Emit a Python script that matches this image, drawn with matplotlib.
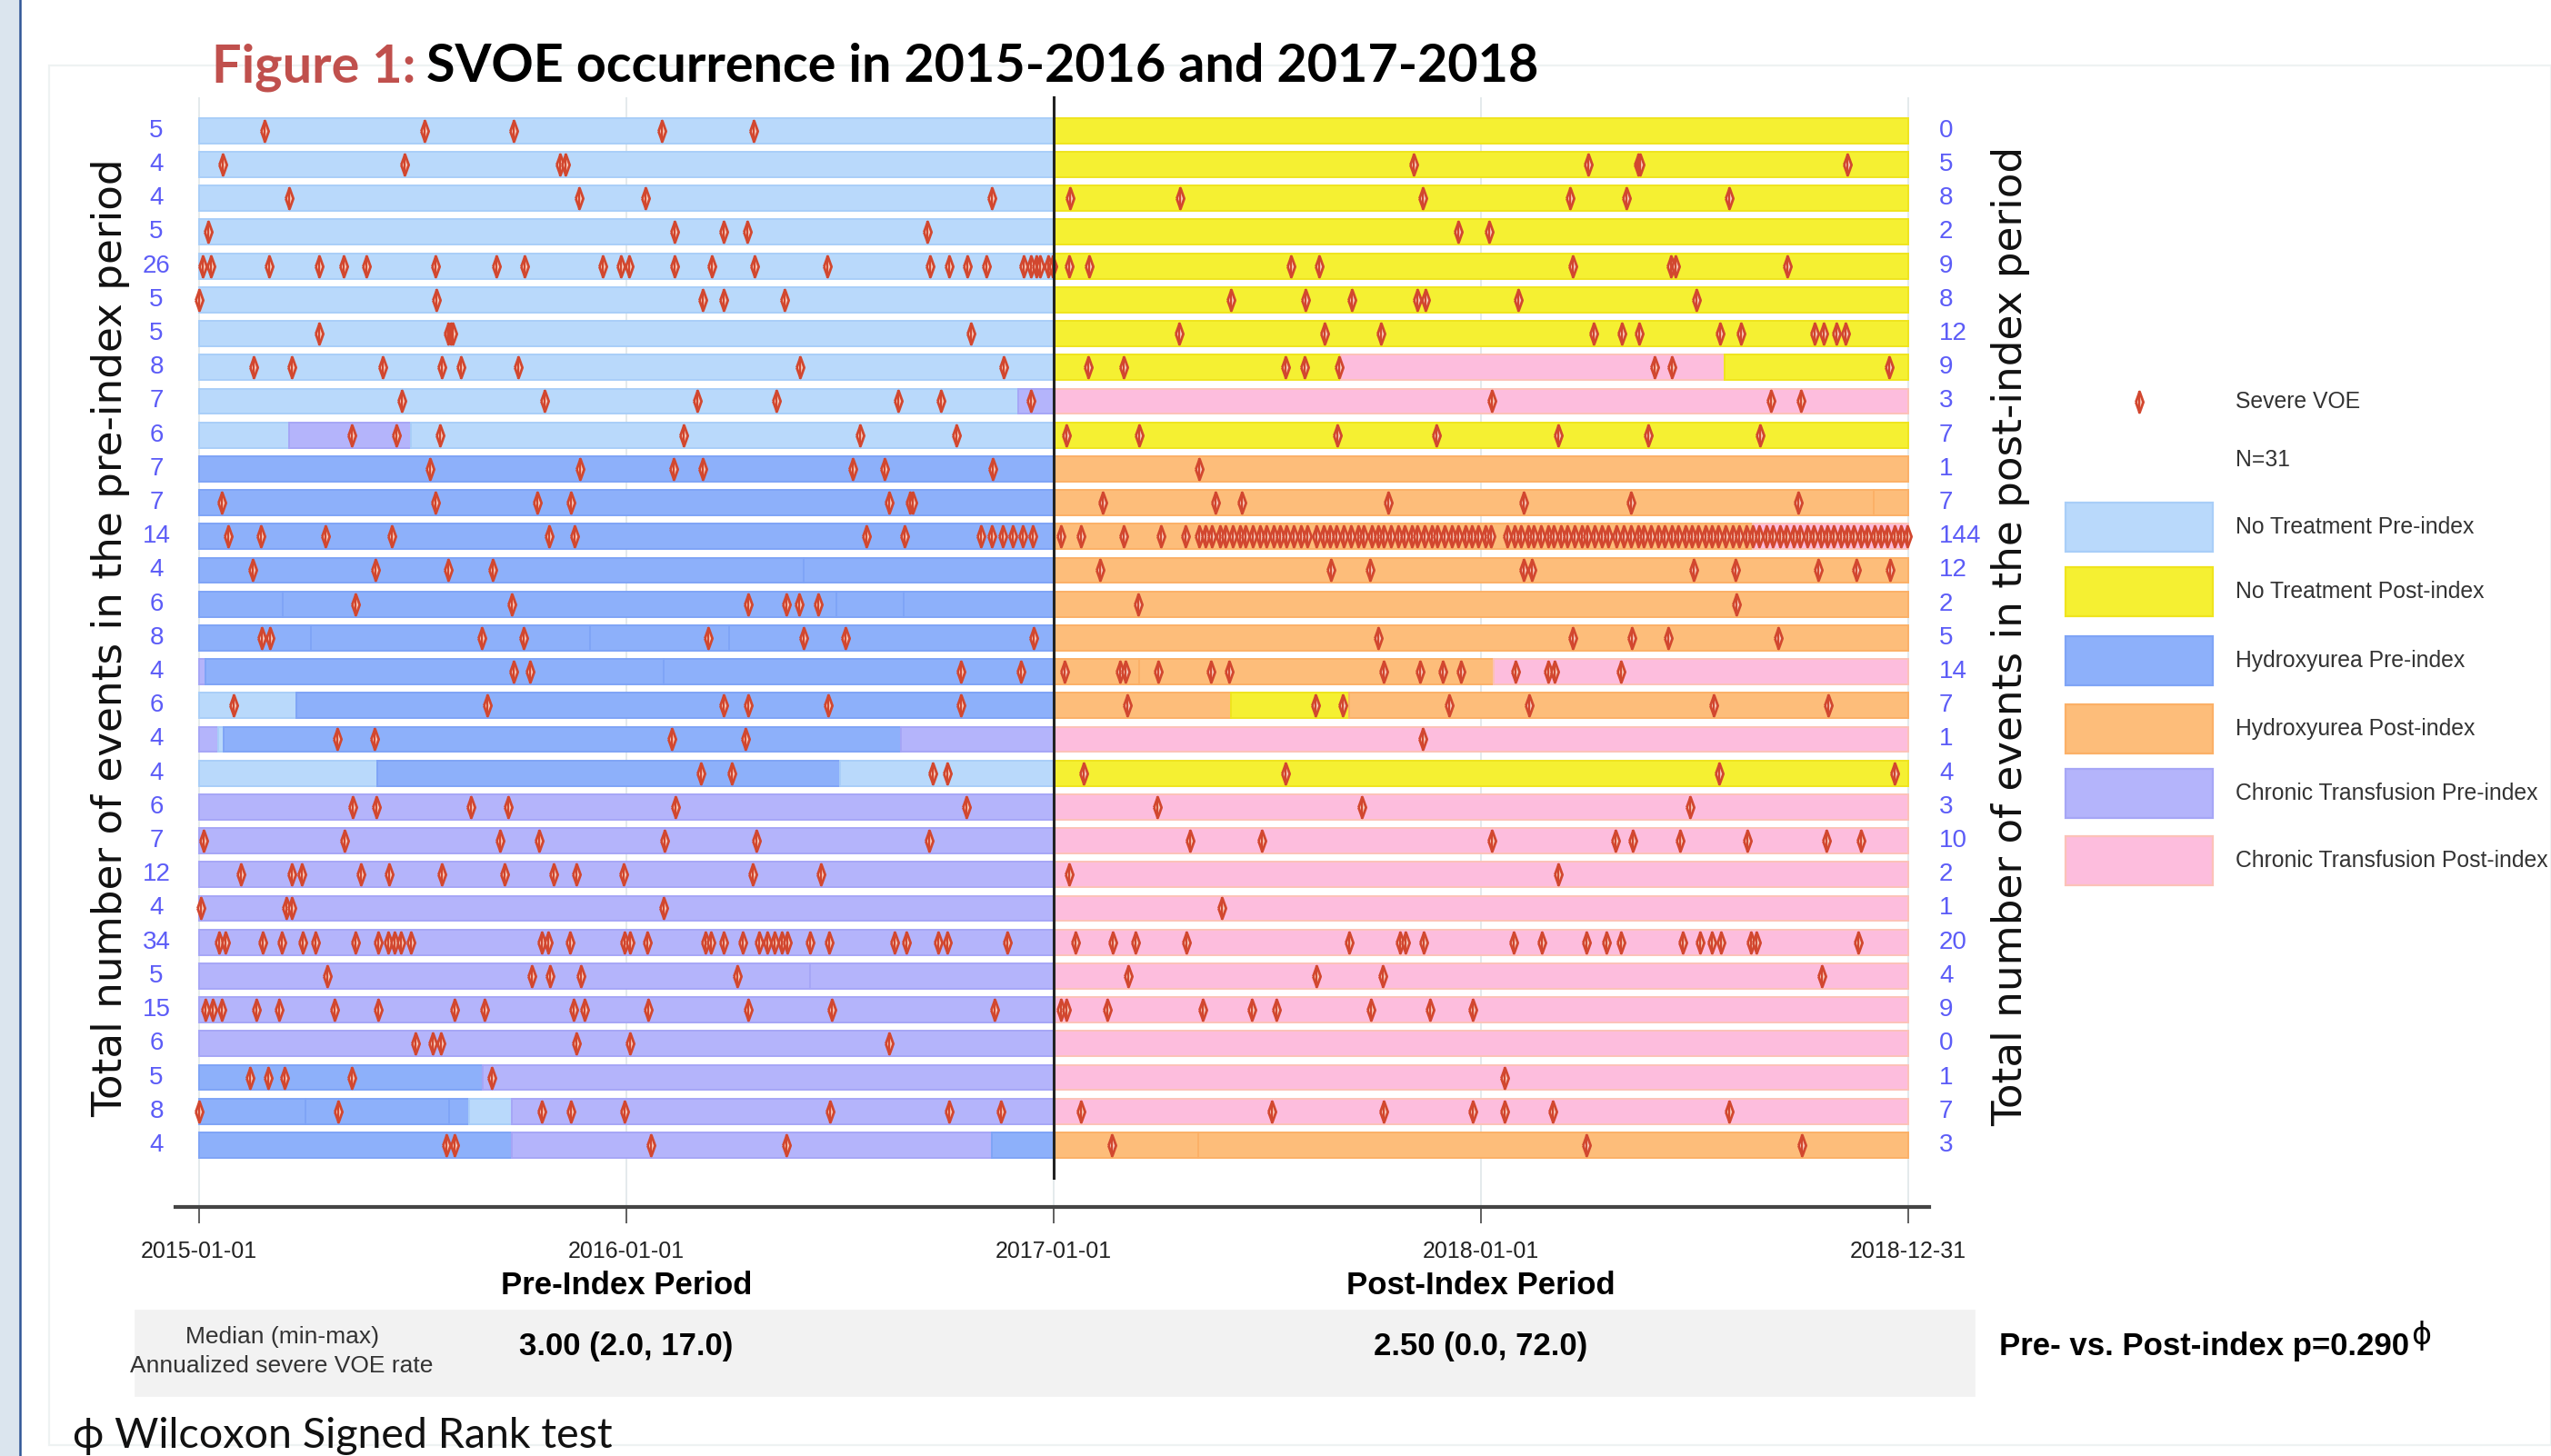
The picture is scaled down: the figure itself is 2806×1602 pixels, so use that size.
import numpy as np
import matplotlib
matplotlib.use('Agg')
from matplotlib import pyplot as plt
from matplotlib import transforms
from matplotlib.patches import Rectangle
from matplotlib.lines import Line2D
from matplotlib import font_manager as fm

W, H, DPI = 2806, 1602, 200
names = {f.name for f in fm.fontManager.ttflist}
NARROW = 'Liberation Sans Narrow' if 'Liberation Sans Narrow' in names else 'Liberation Sans'
CAL = 'Lato' if 'Lato' in names else 'DejaVu Sans'

#---------------------------------------------------------------- data
pre_counts = [5, 4, 4, 5, 26, 5, 5, 8, 7, 6, 7, 7, 14, 4, 6, 8, 4, 6, 4, 4, 6, 7, 12, 4, 34, 5, 15, 6, 5, 8, 4]
post_counts = [0, 5, 8, 2, 9, 8, 12, 9, 3, 7, 1, 7, 144, 12, 2, 5, 14, 7, 1, 4, 3, 10, 2, 1, 20, 4, 9, 0, 1, 7, 3]

# treatment segments per patient: (start, end, code); dates as decimal years
segments = [
    [(2015, 2017, 'NT0'), (2017, 2019, 'NT1')],
    [(2015, 2017, 'NT0'), (2017, 2019, 'NT1')],
    [(2015, 2017, 'NT0'), (2017, 2019, 'NT1')],
    [(2015, 2017, 'NT0'), (2017, 2019, 'NT1')],
    [(2015, 2017, 'NT0'), (2017, 2019, 'NT1')],
    [(2015, 2017, 'NT0'), (2017, 2019, 'NT1')],
    [(2015, 2017, 'NT0'), (2017, 2019, 'NT1')],
    [(2015, 2017, 'NT0'), (2017, 2017.672, 'NT1'), (2017.672, 2018.571, 'CT1'), (2018.571, 2019, 'NT1')],
    [(2015, 2016.918, 'NT0'), (2016.918, 2017, 'CT0'), (2017, 2019, 'CT1')],
    [(2015, 2015.212, 'NT0'), (2015.212, 2015.495, 'CT0'), (2015.495, 2017, 'NT0'), (2017, 2019, 'NT1')],
    [(2015, 2017, 'HU0'), (2017, 2019, 'HU1')],
    [(2015, 2017, 'HU0'), (2017, 2018.92, 'HU1'), (2018.92, 2019, 'HU1')],
    [(2015, 2017, 'HU0'), (2017, 2018.637, 'HU1'), (2018.637, 2019, 'CT1')],
    [(2015, 2016.415, 'HU0'), (2016.415, 2017, 'HU0'), (2017, 2019, 'HU1')],
    [(2015, 2015.196, 'HU0'), (2015.196, 2016.491, 'HU0'), (2016.491, 2016.649, 'HU0'), (2016.649, 2017, 'HU0'), (2017, 2019, 'HU1')],
    [(2015, 2015.262, 'HU0'), (2015.262, 2015.915, 'HU0'), (2015.915, 2016.240, 'HU0'), (2016.240, 2017, 'HU0'), (2017, 2019, 'HU1')],
    [(2015, 2015.015, 'CT0'), (2015.015, 2016.088, 'HU0'), (2016.088, 2017, 'HU0'), (2017, 2017.2, 'HU1'), (2017.2, 2018.029, 'HU1'), (2018.029, 2019, 'CT1')],
    [(2015, 2015.229, 'NT0'), (2015.229, 2017, 'HU0'), (2017, 2017.414, 'HU1'), (2017.414, 2017.691, 'NT1'), (2017.691, 2019, 'HU1')],
    [(2015, 2015.044, 'CT0'), (2015.044, 2015.057, 'NT0'), (2015.057, 2016.643, 'HU0'), (2016.643, 2017, 'CT0'), (2017, 2019, 'CT1')],
    [(2015, 2015.417, 'NT0'), (2015.417, 2016.5, 'HU0'), (2016.5, 2017, 'NT0'), (2017, 2019, 'NT1')],
    [(2015, 2017, 'CT0'), (2017, 2019, 'CT1')],
    [(2015, 2017, 'CT0'), (2017, 2019, 'CT1')],
    [(2015, 2017, 'CT0'), (2017, 2019, 'CT1')],
    [(2015, 2017, 'CT0'), (2017, 2019, 'CT1')],
    [(2015, 2017, 'CT0'), (2017, 2019, 'CT1')],
    [(2015, 2016.43, 'CT0'), (2016.43, 2017, 'CT0'), (2017, 2019, 'CT1')],
    [(2015, 2017, 'CT0'), (2017, 2019, 'CT1')],
    [(2015, 2017, 'CT0'), (2017, 2019, 'CT1')],
    [(2015, 2015.665, 'HU0'), (2015.665, 2017, 'CT0'), (2017, 2019, 'CT1')],
    [(2015, 2015.249, 'HU0'), (2015.249, 2015.585, 'HU0'), (2015.585, 2015.632, 'HU0'), (2015.632, 2015.733, 'NT0'), (2015.733, 2017, 'CT0'), (2017, 2019, 'CT1')],
    [(2015, 2015.733, 'HU0'), (2015.733, 2016.856, 'CT0'), (2016.856, 2017, 'HU0'), (2017, 2017.338, 'HU1'), (2017.338, 2019, 'HU1')],
]

pre_events = [
    [2015.153, 2015.527, 2015.736, 2016.084, 2016.299],
    [2015.055, 2015.481, 2015.846, 2015.858],
    [2015.211, 2015.889, 2016.044, 2016.856],
    [2015.021, 2016.113, 2016.227, 2016.284, 2016.704],
    [2015.009, 2015.028, 2015.165, 2015.281, 2015.338, 2015.391, 2015.554, 2015.695, 2015.761, 2015.945,
     2015.987, 2016.006, 2016.113, 2016.200, 2016.301, 2016.470, 2016.711, 2016.755, 2016.798, 2016.842,
     2016.930, 2016.947, 2016.960, 2016.969, 2016.988, 2016.998],
    [2015.000, 2015.556, 2016.179, 2016.227, 2016.371],
    [2015.281, 2015.584, 2015.590, 2015.594, 2016.806],
    [2015.129, 2015.218, 2015.431, 2015.569, 2015.613, 2015.748, 2016.406, 2016.883],
    [2015.474, 2015.809, 2016.166, 2016.352, 2016.637, 2016.736, 2016.947],
    [2015.357, 2015.463, 2015.564, 2016.134, 2016.546, 2016.772],
    [2015.541, 2015.892, 2016.111, 2016.179, 2016.531, 2016.605, 2016.858],
    [2015.053, 2015.554, 2015.792, 2015.870, 2016.616, 2016.665, 2016.670],
    [2015.068, 2015.144, 2015.296, 2015.451, 2015.820, 2015.879, 2016.561, 2016.652, 2016.829, 2016.856,
     2016.880, 2016.905, 2016.928, 2016.951],
    [2015.125, 2015.412, 2015.583, 2015.688],
    [2015.366, 2015.733, 2016.286, 2016.375, 2016.405, 2016.449],
    [2015.148, 2015.167, 2015.663, 2015.759, 2016.192, 2016.415, 2016.513, 2016.954],
    [2015.737, 2015.774, 2016.783, 2016.924],
    [2015.082, 2015.674, 2016.227, 2016.286, 2016.472, 2016.783],
    [2015.324, 2015.410, 2016.107, 2016.278],
    [2016.175, 2016.246, 2016.718, 2016.751],
    [2015.360, 2015.416, 2015.636, 2015.723, 2016.115, 2016.795],
    [2015.011, 2015.340, 2015.705, 2015.797, 2016.090, 2016.305, 2016.709],
    [2015.098, 2015.218, 2015.241, 2015.380, 2015.444, 2015.569, 2015.716, 2015.830, 2015.883, 2015.993,
     2016.297, 2016.455],
    [2015.005, 2015.205, 2015.218, 2016.088],
    [2015.047, 2015.062, 2015.150, 2015.193, 2015.243, 2015.273, 2015.366, 2015.419, 2015.442, 2015.457,
     2015.473, 2015.495, 2015.803, 2015.818, 2015.868, 2015.997, 2016.008, 2016.050, 2016.185, 2016.198,
     2016.227, 2016.272, 2016.310, 2016.329, 2016.348, 2016.363, 2016.377, 2016.430, 2016.475, 2016.627,
     2016.656, 2016.730, 2016.751, 2016.891],
    [2015.300, 2015.778, 2015.822, 2015.894, 2016.259],
    [2015.015, 2015.032, 2015.053, 2015.134, 2015.187, 2015.317, 2015.419, 2015.598, 2015.668, 2015.877,
     2015.902, 2016.052, 2016.285, 2016.481, 2016.861],
    [2015.507, 2015.547, 2015.566, 2015.883, 2016.008, 2016.616],
    [2015.119, 2015.163, 2015.201, 2015.357, 2015.686],
    [2015.000, 2015.325, 2015.803, 2015.871, 2015.995, 2016.476, 2016.755, 2016.877],
    [2015.579, 2015.598, 2016.058, 2016.375],
]

post_events = [
    [],
    [2017.843, 2018.252, 2018.368, 2018.373, 2018.858],
    [2017.038, 2017.296, 2017.864, 2018.208, 2018.341, 2018.582],
    [2017.948, 2018.020],
    [2017.036, 2017.083, 2017.555, 2017.621, 2018.216, 2018.444, 2018.455, 2018.717],
    [2017.414, 2017.589, 2017.697, 2017.851, 2017.870, 2018.088, 2018.504],
    [2017.294, 2017.634, 2017.767, 2018.265, 2018.330, 2018.371, 2018.559, 2018.609, 2018.780, 2018.803,
     2018.831, 2018.854],
    [2017.080, 2017.163, 2017.543, 2017.587, 2017.669, 2018.406, 2018.447, 2018.955],
    [2018.026, 2018.679, 2018.748],
    [2017.030, 2017.201, 2017.665, 2017.895, 2018.181, 2018.392, 2018.653],
    [2017.340],
    [2017.116, 2017.378, 2017.441, 2017.784, 2018.100, 2018.352, 2018.742],
    [2017.017, 2017.064, 2017.165, 2017.252, 2017.308,
     2017.340, 2017.356, 2017.371, 2017.389, 2017.402, 2017.420, 2017.436, 2017.449, 2017.466, 2017.483,
     2017.498, 2017.514, 2017.531, 2017.545, 2017.561, 2017.578, 2017.594,
     2017.615, 2017.632, 2017.648, 2017.661, 2017.679, 2017.695, 2017.712, 2017.726, 2017.744, 2017.759,
     2017.773, 2017.790, 2017.806, 2017.821, 2017.838, 2017.852, 2017.869, 2017.885, 2017.899, 2017.916,
     2017.932, 2017.947, 2017.963, 2017.979, 2017.994, 2018.010, 2018.024,
     2018.062, 2018.078, 2018.093, 2018.110, 2018.124, 2018.141, 2018.157, 2018.171, 2018.188, 2018.203,
     2018.219, 2018.236, 2018.250, 2018.266, 2018.283, 2018.299, 2018.318,
     2018.335, 2018.351, 2018.368, 2018.382, 2018.399, 2018.414, 2018.430, 2018.447, 2018.461, 2018.478,
     2018.494, 2018.509, 2018.525, 2018.541, 2018.556, 2018.573, 2018.589, 2018.604, 2018.621, 2018.637,
     2018.652, 2018.668, 2018.684, 2018.700, 2018.716, 2018.731, 2018.747, 2018.763, 2018.778, 2018.795,
     2018.811, 2018.826, 2018.842, 2018.858, 2018.873, 2018.890, 2018.905, 2018.921, 2018.937, 2018.952,
     2018.968, 2018.984, 2018.998],
    [2017.108, 2017.650, 2017.741, 2018.100, 2018.119, 2018.499, 2018.596, 2018.789, 2018.879, 2018.958],
    [2017.197, 2018.598],
    [2017.760, 2018.214, 2018.353, 2018.438, 2018.695],
    [2017.026, 2017.156, 2017.169, 2017.245, 2017.368, 2017.410, 2017.773, 2017.858, 2017.910, 2017.953,
     2018.081, 2018.157, 2018.172, 2018.328],
    [2017.173, 2017.612, 2017.676, 2017.925, 2018.113, 2018.544, 2018.812],
    [2017.864],
    [2017.070, 2017.543, 2018.558, 2018.968],
    [2017.243, 2017.722, 2018.489],
    [2017.319, 2017.488, 2018.026, 2018.314, 2018.356, 2018.465, 2018.624, 2018.808, 2018.890],
    [2017.036, 2018.181],
    [2017.393],
    [2017.051, 2017.138, 2017.192, 2017.311, 2017.691, 2017.811, 2017.824, 2017.866, 2018.077, 2018.143,
     2018.246, 2018.294, 2018.328, 2018.472, 2018.512, 2018.541, 2018.561, 2018.632, 2018.645, 2018.882],
    [2017.175, 2017.615, 2017.771, 2018.799],
    [2017.017, 2017.030, 2017.125, 2017.349, 2017.465, 2017.522, 2017.743, 2017.880, 2017.980],
    [],
    [2018.056],
    [2017.064, 2017.511, 2017.773, 2017.981, 2018.055, 2018.168, 2018.581],
    [2017.136, 2018.247, 2018.751],
]

tick_years = [2015, 2016, 2017, 2018, 2019]
tick_labels = ['2015-01-01', '2016-01-01', '2017-01-01', '2018-01-01', '2018-12-31']
legend_codes = ['NT0', 'NT1', 'HU0', 'HU1', 'CT0', 'CT1']
legend_labels = ['No Treatment Pre-index', 'No Treatment Post-index', 'Hydroxyurea Pre-index',
                 'Hydroxyurea Post-index', 'Chronic Transfusion Pre-index', 'Chronic Transfusion Post-index']

#---------------------------------------------------------------- styles
face = {'NT0': '#b9d9fb', 'NT1': '#f5f032', 'HU0': '#8db0fa', 'HU1': '#fdbd7a', 'CT0': '#b4b4fb', 'CT1': '#fdbddd'}
edge = {'NT0': '#a9cef8', 'NT1': '#efe41e', 'HU0': '#7fa4f6', 'HU1': '#fbb067', 'CT0': '#a6a6f6', 'CT1': '#fcc2b8'}
RED = '#d2472f'
diamond = [(-0.36, 0), (0, 1), (0.36, 0), (0, -1), (-0.36, 0)]
cnt_col = '#5c5cf7'

def fx(px):
    return px / W

def fy(py):
    return 1 - py / H

fig = plt.figure(figsize=(W / DPI, H / DPI), dpi=DPI)
fig.patch.set_facecolor('white')

# slide frame
fig.add_artist(Rectangle((0, 0), fx(20), 1, transform=fig.transFigure, color='#dbe5ee', zorder=0))
fig.add_artist(Line2D([fx(22), fx(22)], [0, 1], transform=fig.transFigure, color='#2f5597', lw=0.9))
fig.add_artist(Rectangle((fx(54), fy(1590)), fx(2806 - 54), (1590 - 72) / H, transform=fig.transFigure,
                         fill=False, edgecolor='#eef2f2', lw=0.8, zorder=0))

ax = fig.add_axes([fx(193), fy(1328), (2122 - 193) / W, (1328 - 107) / H])
n = len(segments)
ax.set_xlim(2014.945, 2019.049)
ax.set_ylim(-1.83, 30.99)

for x in tick_years:
    ax.axvline(x, color='#e4eaec', lw=0.7, zorder=0.5)

for i in range(n):
    y = n - 1 - i
    for s, e, c in segments[i]:
        ax.barh(y, e - s, left=s, height=0.75, color=face[c], edgecolor=edge[c], linewidth=0.7, zorder=2)
    ev = pre_events[i] + post_events[i]
    if ev:
        ax.plot(ev, [y] * len(ev), ls='none', marker=diamond, ms=8.3, mfc='#f7cdbd', mec=RED, mew=1.0, zorder=4)
        ax.plot(ev, [y] * len(ev), ls='none', marker='|', ms=9, mec=RED, mew=0.8, zorder=5)

ax.plot([2017, 2017], [-0.97, 30.99], color='#222222', lw=1.1, zorder=6, clip_on=False)

for sp in ['top', 'left', 'right']:
    ax.spines[sp].set_visible(False)
ax.spines['bottom'].set_color('#444444')
ax.spines['bottom'].set_linewidth(1.5)
ax.set_yticks([])
ax.set_xticks(tick_years)
ax.set_xticklabels(tick_labels, family=NARROW, fontsize=9, color='#222222')
ax.tick_params(axis='x', length=6.5, width=0.6, color='#444444', pad=7)
ax.patch.set_alpha(0)

# counts
tr = transforms.blended_transform_factory(fig.transFigure, ax.transData)
for i in range(n):
    y = n - 1 - i
    ax.text(fx(172), y, str(pre_counts[i]), transform=tr, ha='center', va='center', color=cnt_col,
            fontsize=10, family=NARROW)
    ax.text(fx(2133), y, str(post_counts[i]), transform=tr, ha='left', va='center', color=cnt_col,
            fontsize=10, family=NARROW)

fig.text(fx(122), fy(702), 'Total number of events in the pre-index period', rotation=90,
         ha='center', va='center', fontsize=16.3, family='DejaVu Sans', color='#111111')
fig.text(fx(2212), fy(700), 'Total number of events in the post-index period', rotation=90,
         ha='center', va='center', fontsize=16.3, family='DejaVu Sans', color='#111111')

# period labels and summary band
tr2 = transforms.blended_transform_factory(ax.transData, fig.transFigure)
ax.text(2016.0, fy(1414), 'Pre-Index Period', transform=tr2, ha='center', va='center',
        fontsize=12.5, weight='bold', family=NARROW, clip_on=False)
ax.text(2018.0, fy(1414), 'Post-Index Period', transform=tr2, ha='center', va='center',
        fontsize=12.5, weight='bold', family=NARROW, clip_on=False)
fig.add_artist(Rectangle((fx(149), fy(1535)), (2171 - 149) / W, (1535 - 1442) / H,
                         transform=fig.transFigure, color='#f2f2f2', zorder=0))
fig.text(fx(310), fy(1471), 'Median (min-max)', ha='center', va='center', fontsize=9.5,
         family=NARROW, color='#333333')
fig.text(fx(310), fy(1503), 'Annualized severe VOE rate', ha='center', va='center', fontsize=9.5,
         family=NARROW, color='#333333')
ax.text(2016.0, fy(1482), '3.00 (2.0, 17.0)', transform=tr2, ha='center', va='center',
        fontsize=12.5, weight='bold', family=NARROW, clip_on=False)
ax.text(2018.0, fy(1482), '2.50 (0.0, 72.0)', transform=tr2, ha='center', va='center',
        fontsize=12.5, weight='bold', family=NARROW, clip_on=False)
ptxt = fig.text(fx(2199), fy(1482), 'Pre- vs. Post-index p=0.290', ha='left', va='center',
                fontsize=12.5, weight='bold', family=NARROW)

# legend
lx_mark, lx_text = 2353, 2459
fig.add_artist(Line2D([fx(lx_mark)], [fy(442)], transform=fig.transFigure, ls='none', marker=diamond,
                      ms=8.3, mfc='#f7cdbd', mec=RED, mew=1.0))
fig.add_artist(Line2D([fx(lx_mark)], [fy(442)], transform=fig.transFigure, ls='none', marker='|',
                      ms=9, mec=RED, mew=0.8))
fig.text(fx(lx_text), fy(442), 'Severe VOE', ha='left', va='center', fontsize=8.9, family=NARROW, color='#333333')
fig.text(fx(lx_text), fy(506), 'N=31', ha='left', va='center', fontsize=8.9, family=NARROW, color='#333333')
leg_y = [580, 651, 727, 802, 873, 947]
for code, lab, yy in zip(legend_codes, legend_labels, leg_y):
    fig.add_artist(Rectangle((fx(2272), fy(yy + 27)), (2434 - 2272) / W, 54 / H, transform=fig.transFigure,
                             facecolor=face[code], edgecolor=edge[code], lw=0.8))
    fig.text(fx(lx_text), fy(yy), lab, ha='left', va='center', fontsize=8.9, family=NARROW, color='#333333')

# title and footnote
t1 = fig.text(fx(233), fy(74), 'Figure 1:', ha='left', va='center', fontsize=20.7, weight='bold',
              family=CAL, color='#c0504d')
fig.text(fx(80), fy(1580), '\u03d5 Wilcoxon Signed Rank test', ha='left', va='center', fontsize=16.8,
         family=CAL, color='#111111')

fig.canvas.draw()
r = fig.canvas.get_renderer()
bb = t1.get_window_extent(r)
fig.text(bb.x1 / W + fx(12), fy(74), 'SVOE occurrence in 2015-2016 and 2017-2018', ha='left', va='center',
         fontsize=20.7, weight='bold', family=CAL, color='#000000')
bb2 = ptxt.get_window_extent(r)
fig.text(bb2.x1 / W + fx(2), fy(1470), '\u03d5', ha='left', va='center', fontsize=12, family='DejaVu Sans',
         color='#000000')

fig.savefig('out.png', dpi=DPI)
